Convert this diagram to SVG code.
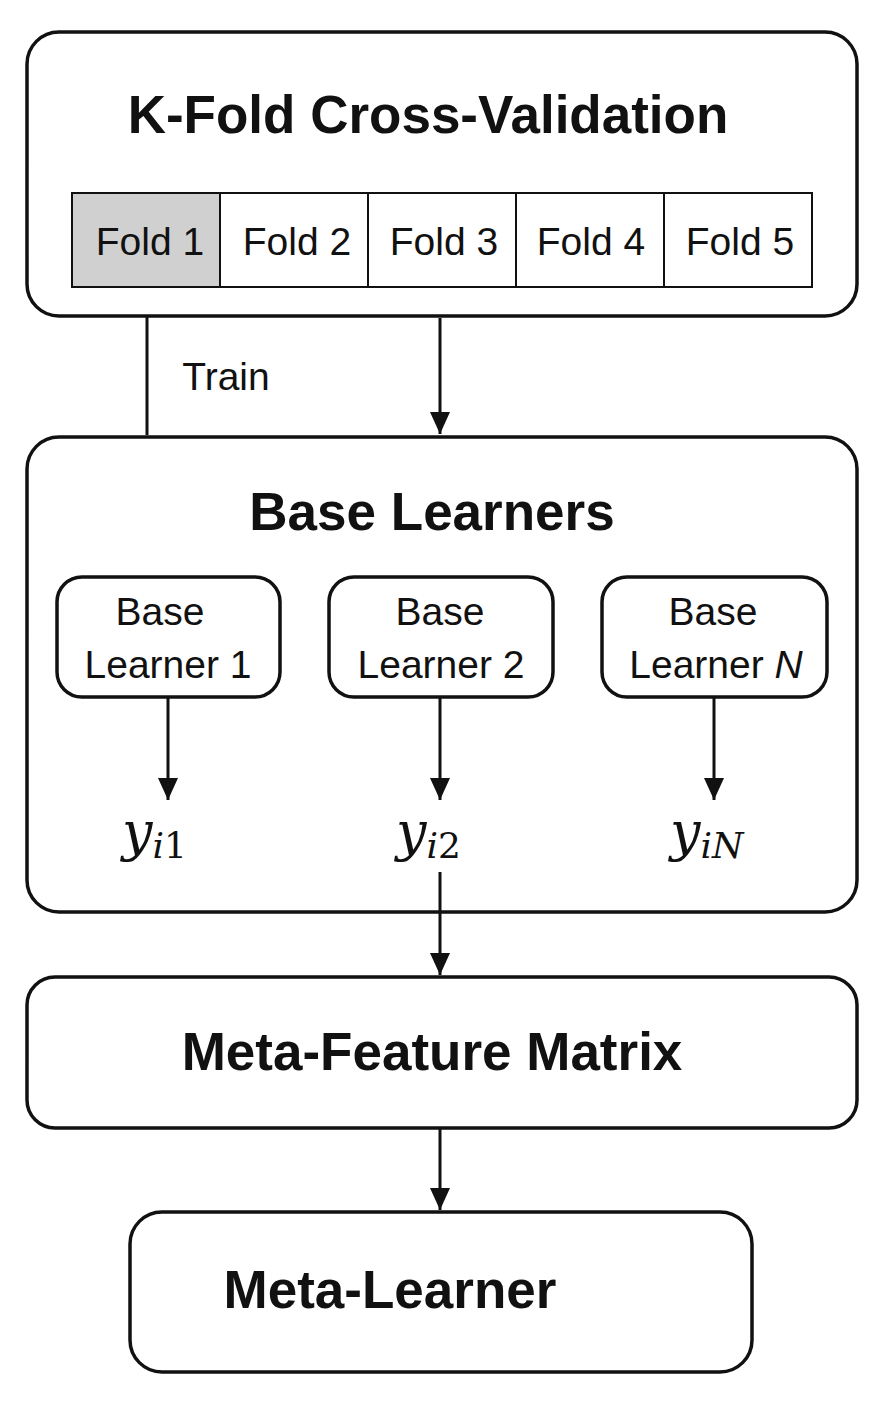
<svg xmlns="http://www.w3.org/2000/svg" width="880" height="1404" viewBox="0 0 880 1404">
<style>
.box{fill:#fff;stroke:#111;stroke-width:3.5}
.cell{stroke:#111;stroke-width:2}
.title{font-family:"Liberation Sans",Arial,sans-serif;font-weight:bold;font-size:53px;fill:#111;text-anchor:middle}
.t{font-family:"Liberation Sans",Arial,sans-serif;font-size:39px;fill:#111;text-anchor:middle}
.y{font-family:"DejaVu Serif","Liberation Serif",serif;font-style:italic;font-size:54px;fill:#111}
.sub{font-size:36px;font-style:normal}
.it{font-style:italic}
.ln{stroke:#111;stroke-width:3;fill:none}
</style>
<defs><marker id="a" markerWidth="22" markerHeight="24" refX="11" refY="22" orient="0" markerUnits="userSpaceOnUse"><path d="M1,0 L21,0 L11,22 z" fill="#111"/></marker></defs>
<g id="kfold">
<rect class="box" x="27" y="32" width="830" height="284" rx="32"/>
<text class="title" x="428" y="133">K-Fold Cross-Validation</text>
<rect class="cell" x="72" y="193" width="148" height="94" fill="#d0d0d0"/>
<rect class="cell" x="220" y="193" width="148" height="94" fill="#fff"/>
<rect class="cell" x="368" y="193" width="148" height="94" fill="#fff"/>
<rect class="cell" x="516" y="193" width="148" height="94" fill="#fff"/>
<rect class="cell" x="664" y="193" width="148" height="94" fill="#fff"/>
<text class="t" x="150" y="255">Fold 1</text>
<text class="t" x="297" y="255">Fold 2</text>
<text class="t" x="444" y="255">Fold 3</text>
<text class="t" x="591" y="255">Fold 4</text>
<text class="t" x="740" y="255">Fold 5</text>
</g>
<g id="base">
<rect class="box" x="27" y="437" width="830" height="475" rx="32"/>
<text class="title" x="432" y="530">Base Learners</text>
<g id="bl1"><rect class="box" x="57" y="577" width="223" height="120" rx="25"/>
<text class="t" x="160" y="625">Base</text><text class="t" x="168" y="678">Learner 1</text></g>
<g id="bl2"><rect class="box" x="329" y="577" width="224" height="120" rx="25"/>
<text class="t" x="440" y="625">Base</text><text class="t" x="441" y="678">Learner 2</text></g>
<g id="bln"><rect class="box" x="602" y="577" width="225" height="120" rx="25"/>
<text class="t" x="713" y="625">Base</text><text class="t" x="716" y="678">Learner <tspan font-style="italic">N</tspan></text></g>
<text class="y" x="122" y="850">y<tspan class="sub" dy="8"><tspan class="it">i</tspan>1</tspan></text>
<text class="y" x="396" y="850">y<tspan class="sub" dy="8"><tspan class="it">i</tspan>2</tspan></text>
<text class="y" x="670" y="850">y<tspan class="sub" dy="8"><tspan class="it">iN</tspan></tspan></text>
</g>
<g id="meta-features">
<rect class="box" x="27" y="977" width="830" height="151" rx="28"/>
<text class="title" x="432" y="1070">Meta-Feature Matrix</text>
</g>
<g id="meta-learner">
<rect class="box" x="130" y="1212" width="622" height="160" rx="32"/>
<text class="title" x="390" y="1308">Meta-Learner</text>
</g>
<g id="connectors">
<line class="ln" x1="147" y1="316" x2="147" y2="435"/>
<text class="t" x="226" y="390">Train</text>
<line class="ln" x1="440" y1="318" x2="440" y2="434" marker-end="url(#a)"/>
<line class="ln" x1="168" y1="697" x2="168" y2="800" marker-end="url(#a)"/>
<line class="ln" x1="440" y1="697" x2="440" y2="800" marker-end="url(#a)"/>
<line class="ln" x1="714" y1="697" x2="714" y2="800" marker-end="url(#a)"/>
<line class="ln" x1="440" y1="872" x2="440" y2="975" marker-end="url(#a)"/>
<line class="ln" x1="440" y1="1128" x2="440" y2="1210" marker-end="url(#a)"/>
</g>
</svg>
